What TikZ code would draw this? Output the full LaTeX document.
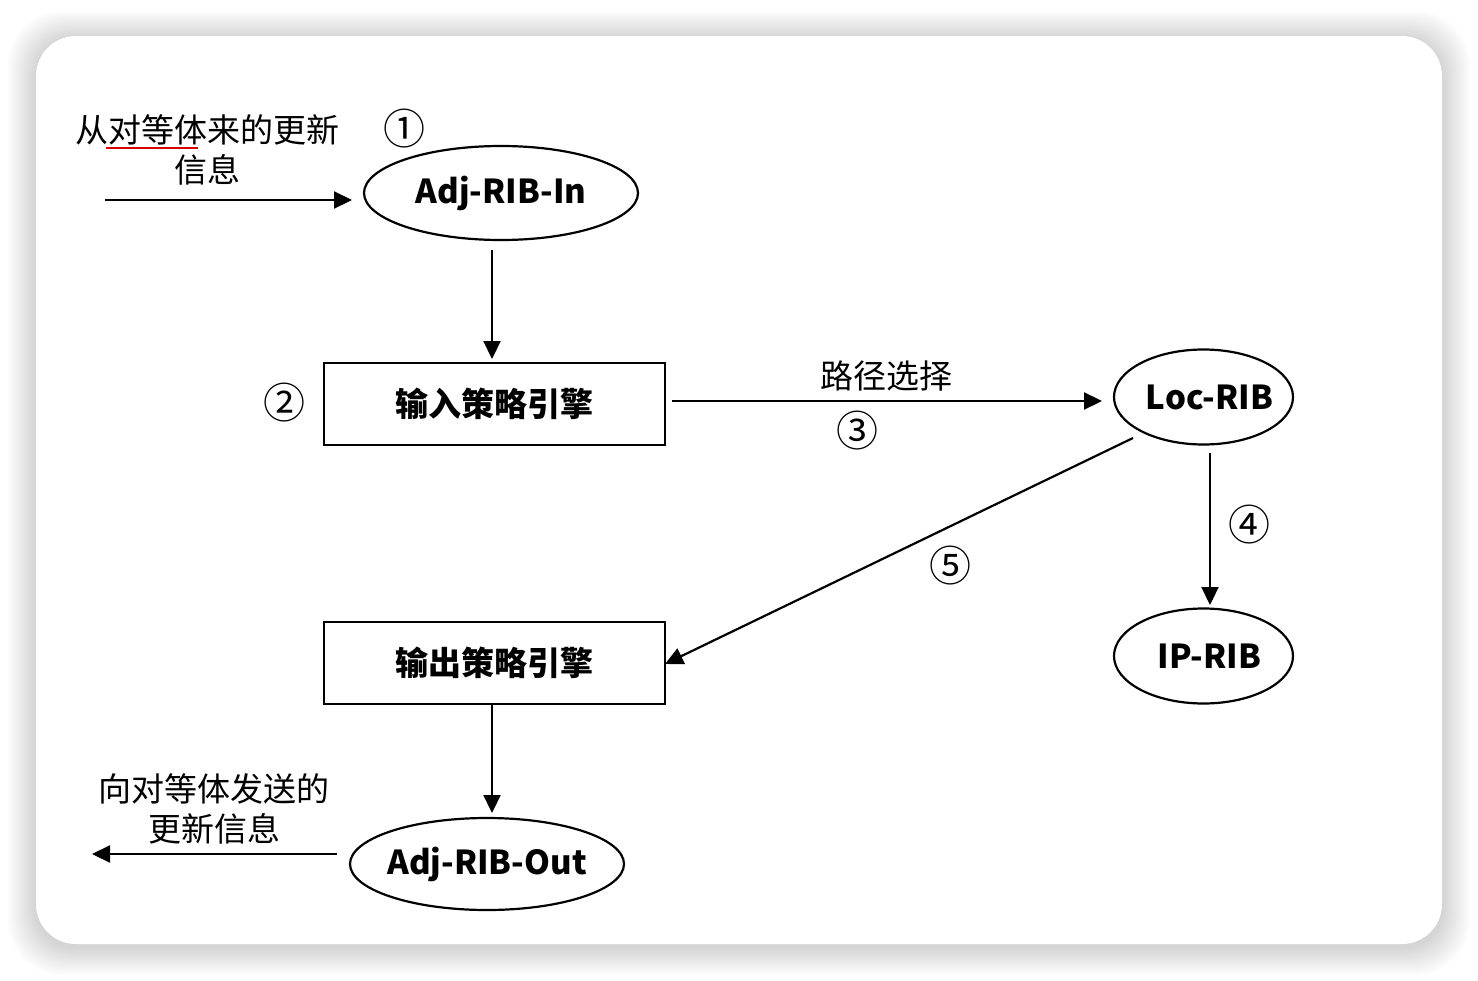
\documentclass[tikz,border=0pt]{standalone}
\usepackage{fontspec}
\setmainfont{Noto Sans CJK SC}
\usetikzlibrary{arrows.meta,shapes.geometric}
\tikzset{
  conn/.style={line width=2.2pt,-{Triangle[length=18pt,width=17pt]}},
  ell/.style={draw,ellipse,line width=2.2pt,inner sep=0pt,font=\fontsize{33}{38}\selectfont\bfseries},
  engine/.style={draw,rectangle,line width=2.2pt,minimum width=341pt,minimum height=82pt,font=\fontsize{33}{38}\selectfont\bfseries},
  lbl/.style={font=\fontsize{33}{40}\selectfont,align=center,inner sep=0pt},
  num/.style={font=\fontsize{42}{44}\selectfont,inner sep=0pt}
}
\begin{document}
\begin{tikzpicture}[x=1pt,y=-1pt]
\useasboundingbox (0,0) rectangle (1478,980);
\fill[white] (0,0) rectangle (1478,980);
% shadow
\foreach \i in {1,...,14}{
  \fill[black,opacity=0.013,rounded corners={40pt+\i pt}] (36-\i*2,36-\i*2+3) rectangle (1442+\i*2,944+\i*2+3);
}
\fill[white,rounded corners=40pt] (36,36) rectangle (1442,944);
% nodes
\node[ell,minimum width=274pt,minimum height=94pt] (in) at (501,193) {\makebox[0pt]{Adj-RIB-In}};
\node[engine] (ipe) at (494.5,404) {输入策略引擎};
\node[ell,minimum width=179pt,minimum height=95pt] (loc) at (1203.5,397) {\makebox[0pt]{\hspace{12pt}Loc-RIB}};
\node[ell,minimum width=179pt,minimum height=95pt] (ip) at (1203.5,656) {\makebox[0pt]{\hspace{12pt}IP-RIB}};
\node[engine] (ope) at (494.5,663) {输出策略引擎};
\node[ell,minimum width=274pt,minimum height=92pt] (out) at (487,864) {\makebox[0pt]{Adj-RIB-Out}};
% free ends
\coordinate (src) at (105,200);
\coordinate (dst) at (92,854);
% labels
\node[lbl] (t1) at (207,150) {从对等体来的更新\\信息};
\node[lbl] (t2) at (214,809) {向对等体发送的\\更新信息};
\node[lbl] (t3) at (886,376) {路径选择};
\node[num] (n1) at (404,129) {①};
\node[num] (n2) at (284,403) {②};
\node[num] (n3) at (857,431) {③};
\node[num] (n4) at (1249,525) {④};
\node[num] (n5) at (950,566) {⑤};
% red underline artifact
\draw[red!85!black,line width=2pt] (106,148) -- (198,148);
% connectors
\draw[conn] (src) -- (352,200);
\draw[conn] (492,250) -- (492,359);
\draw[conn] (672,401) -- (1102,401);
\draw[conn] (1210,453) -- (1210,605);
\draw[conn] (1133,438) -- (665,664);
\draw[conn] (492,705) -- (492,813);
\draw[conn] (337,854) -- (dst);
\end{tikzpicture}
\end{document}
